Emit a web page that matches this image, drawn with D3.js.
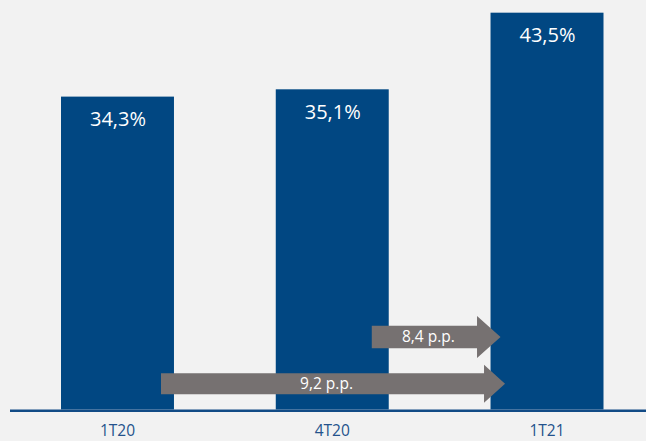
<!DOCTYPE html>
<html>
<head>
<meta charset="utf-8">
<script src="https://cdn.jsdelivr.net/npm/d3@7"></script>
<style>
  html, body { margin: 0; padding: 0; background: #f2f2f2; overflow: hidden; }
  svg { display: block; }
  text { font-family: "Open Sans", "Noto Sans", sans-serif; }
</style>
</head>
<body>
<script>
// ---- data ----
const categories = ["1T20", "4T20", "1T21"];
const values = [34.3, 35.1, 43.5];
const valueLabels = ["34,3%", "35,1%", "43,5%"];
const arrowLabels = ["9,2 p.p.", "8,4 p.p."];
const arrowFrom = ["1T20", "4T20"];
const arrowTo = ["1T21", "1T21"];

// ---- layout ----
const W = 646, H = 441;
const baseY = 409.5;
const svg = d3.select("body").append("svg").attr("width", W).attr("height", H);
svg.append("rect").attr("width", W).attr("height", H).attr("fill", "#f2f2f2");

const x = d3.scaleBand().domain(categories).range([10.1, 654.4])
  .paddingInner(0.474).paddingOuter(0.237);
const y = d3.scaleLinear().domain([0, 45]).range([baseY, -1]);

const data = categories.map((c, i) => ({ c, v: values[i], label: valueLabels[i] }));

// bars
svg.selectAll("rect.bar").data(data).enter().append("rect")
  .attr("class", "bar")
  .attr("x", d => x(d.c))
  .attr("y", d => y(d.v))
  .attr("width", x.bandwidth())
  .attr("height", d => y(0) - y(d.v))
  .attr("fill", "#014782");

// value labels
svg.selectAll("text.val").data(data).enter().append("text")
  .attr("class", "val")
  .attr("x", d => x(d.c) + x.bandwidth() / 2 + 0.5)
  .attr("y", d => y(d.v) + 29.5)
  .attr("text-anchor", "middle")
  .attr("fill", "#ffffff")
  .attr("font-size", 20)
  .text(d => d.label);

// baseline axis
const axis = d3.axisBottom(x).tickSize(0).tickPadding(0);
const gAxis = svg.append("g").attr("transform", `translate(0,${baseY})`).call(axis);
gAxis.select(".domain").remove();
gAxis.append("line").attr("x1", 10).attr("x2", W).attr("y1", 1.3).attr("y2", 1.3)
  .attr("stroke", "#124b86").attr("stroke-width", 2.4);
gAxis.selectAll(".tick text")
  .attr("y", 26.5)
  .attr("dy", 0)
  .attr("fill", "#24528c")
  .attr("font-size", 15.5)
  .attr("font-family", "'Open Sans', sans-serif");

// arrows (annotation geometry)
const arrowCfg = [
  { startOff: 100, tipOff: 14.5, level: 2.82, body: 21, headHalf: 19, headLen: 21 },
  { startOff: 96, tipOff: 10, level: 7.95, body: 22.5, headHalf: 21, headLen: 23.5 }
];
arrowLabels.forEach((lab, i) => {
  const cfg = arrowCfg[i];
  const x0 = x(arrowFrom[i]) + cfg.startOff;
  const xt = x(arrowTo[i]) + cfg.tipOff;
  const cy = y(cfg.level);
  const xh = xt - cfg.headLen;
  const bh = cfg.body / 2;
  const pts = [
    [x0, cy - bh], [xh, cy - bh], [xh, cy - cfg.headHalf], [xt, cy],
    [xh, cy + cfg.headHalf], [xh, cy + bh], [x0, cy + bh]
  ];
  svg.append("path")
    .attr("d", d3.line()(pts) + "Z")
    .attr("fill", "#767171");
  svg.append("text")
    .attr("x", (x0 + xh) / 2 + 4)
    .attr("y", cy + 5)
    .attr("text-anchor", "middle")
    .attr("fill", "#ffffff")
    .attr("font-size", 15.5)
    .text(lab);
});
</script>
</body>
</html>
